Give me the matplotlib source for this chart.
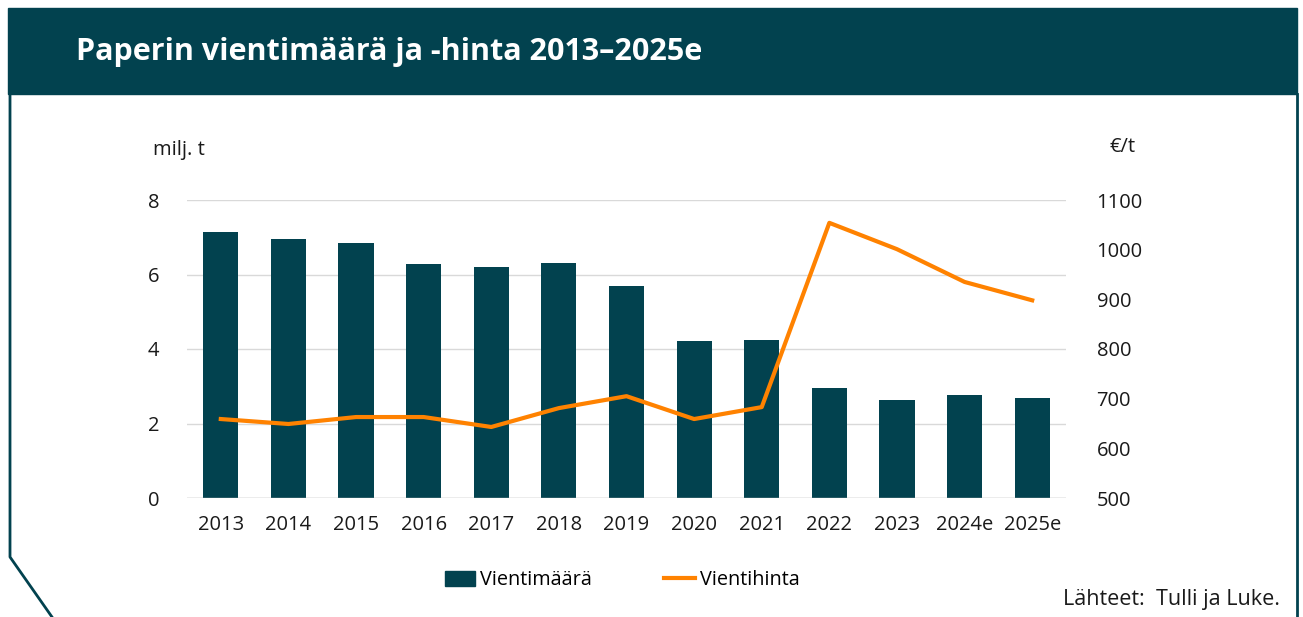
import matplotlib.pyplot as plt
from matplotlib.patches import Rectangle, Patch
from matplotlib.lines import Line2D
import numpy as np

plt.rcParams['font.family'] = ['Open Sans', 'DejaVu Sans']

years = ['2013', '2014', '2015', '2016', '2017', '2018', '2019', '2020', '2021',
         '2022', '2023', '2024e', '2025e']
volume = [7.13, 6.94, 6.84, 6.27, 6.19, 6.30, 5.68, 4.21, 4.24, 2.95, 2.63, 2.76, 2.68]
price = [659, 649, 663, 663, 643, 681, 705, 659, 683, 1054, 1001, 935, 898]

teal = '#02424f'
orange = '#ff8200'
txt = '#1a1a1a'
W, H = 1303, 617

fig = plt.figure(figsize=(W / 100, H / 100), dpi=100)

# header band and frame
fig.patches.append(Rectangle((8 / W, 1 - 94 / H), (1297 - 8) / W, 86 / H,
                             transform=fig.transFigure, color=teal, zorder=0))
fig.lines.append(Line2D([10 / W, 10 / W, 52 / W], [1 - 94 / H, 1 - 557 / H, 0],
                        transform=fig.transFigure, color=teal, lw=2))
fig.lines.append(Line2D([1297 / W, 1297 / W], [1 - 94 / H, 0],
                        transform=fig.transFigure, color=teal, lw=2))
fig.text(76 / W, 1 - 52 / H, 'Paperin vientimäärä ja -hinta 2013–2025e',
         color='white', fontsize=22, fontweight='bold', va='center', ha='left')

ax = fig.add_axes([187 / W, 1 - 498 / H, (1066 - 187) / W, 298 / H])
x = np.arange(len(years))
ax.bar(x, volume, width=0.52, color=teal, zorder=2)
ax.set_xlim(-0.5, 12.5)
ax.set_ylim(0, 8)
ax.set_yticks([0, 2, 4, 6, 8])
ax.set_xticks(x)
ax.set_xticklabels(years)
ax.grid(axis='y', color='#d9d9d9', lw=1, zorder=0)
for s in ax.spines.values():
    s.set_visible(False)
ax.axhline(0, color='#bfbfbf', lw=1, zorder=3)
ax.tick_params(length=0, labelsize=14.5, colors=txt, pad=12)
ax.tick_params(axis='y', pad=20)

ax2 = ax.twinx()
ax2.plot(x, price, color=orange, lw=3, zorder=4)
ax2.set_ylim(500, 1100)
ax2.set_yticks(range(500, 1101, 100))
for s in ax2.spines.values():
    s.set_visible(False)
ax2.tick_params(length=0, labelsize=14.5, colors=txt, pad=22)

fig.text(153 / W, 1 - 150 / H, 'milj. t', fontsize=14.5, va='center', ha='left', color=txt)
fig.text(1109 / W, 1 - 147 / H, '€/t', fontsize=14.5, va='center', ha='left', color=txt)

handles = [Patch(color=teal), Line2D([], [], color=orange, lw=3)]
fig.legend(handles, ['Vientimäärä', 'Vientihinta'], loc='center',
           bbox_to_anchor=(622 / W, 1 - 580 / H), ncol=2, frameon=False,
           fontsize=14.3, handlelength=1.55, handleheight=0.8, columnspacing=3.6,
           handletextpad=0.25)

fig.text(1280 / W, 1 - 600 / H, 'Lähteet:  Tulli ja Luke.', fontsize=15.5,
         ha='right', va='center', color=txt)

fig.savefig('out.png', dpi=100)
